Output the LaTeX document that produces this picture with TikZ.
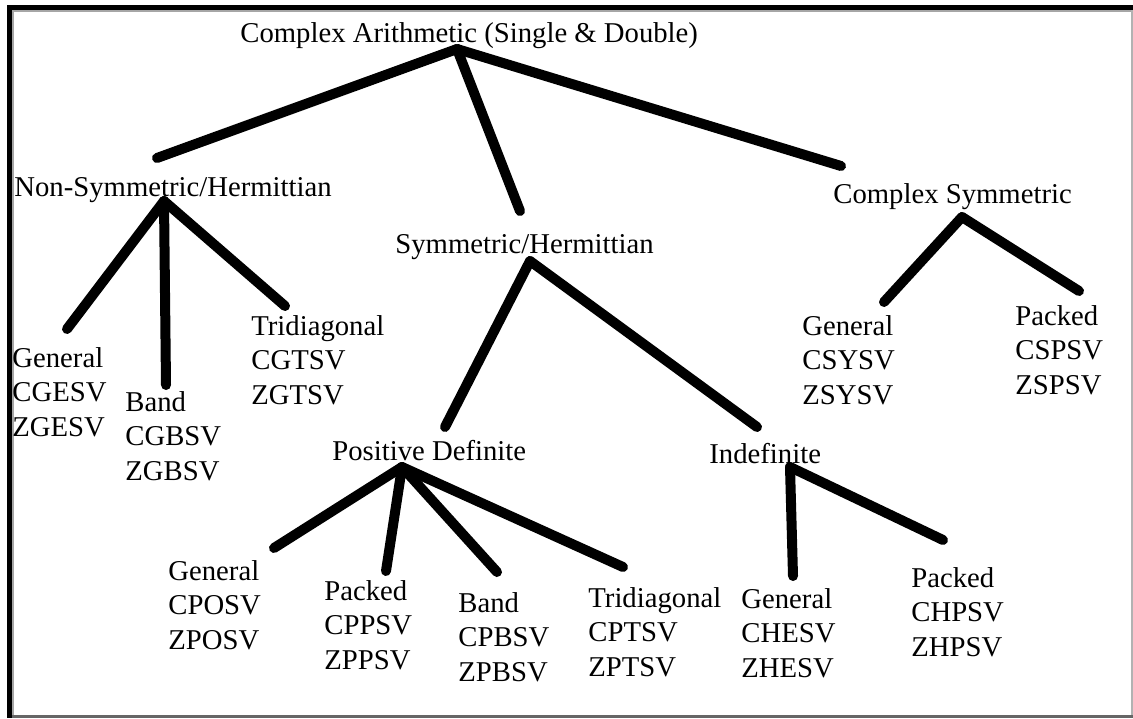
\documentclass[tikz,border=0pt]{standalone}
\usepackage{fontspec}
\setmainfont{Liberation Serif}
\tikzset{
    lbl/.style={inner sep=0pt, anchor=base west, align=left,
        font=\fontsize{14.35}{17.25}\selectfont},
    branch/.style={line width=5pt, line cap=round, line join=round},
}
\begin{document}
\begin{tikzpicture}[x=0.5pt,y=-0.5pt]
    \useasboundingbox (0,0) rectangle (1133,718);
    % frame
    \fill[black] (7,5) rectangle (1133,10);
    \fill[black] (7,5) rectangle (12,718);
    \fill[gray!70] (12,10) rectangle (1131,11.5);
    \fill[gray!70] (12,10) rectangle (13.5,716);
    \fill[gray!60] (1131,10) rectangle (1133,718);
    \fill[black!60] (12,715) rectangle (1133,718);

    % labels (three-line blocks sit on the baseline of their last line)
    \node[lbl] (root) at (240,42) {Complex Arithmetic (Single \& Double)};
    \node[lbl] (nonsym) at (14,196) {Non-Symmetric/Hermittian};
    \node[lbl] (symherm) at (395,253) {Symmetric/Hermittian};
    \node[lbl] (cplxsym) at (833,203) {Complex Symmetric};
    \node[lbl] (nsgen) at (12,436) {General\\CGESV\\ZGESV};
    \node[lbl] (nsband) at (125,480) {Band\\CGBSV\\ZGBSV};
    \node[lbl] (nstri) at (251,404) {Tridiagonal\\CGTSV\\ZGTSV};
    \node[lbl] (posdef) at (332,460) {Positive Definite};
    \node[lbl] (indef) at (709,463) {Indefinite};
    \node[lbl] (csgen) at (802,404) {General\\CSYSV\\ZSYSV};
    \node[lbl] (cspack) at (1015,394) {Packed\\CSPSV\\ZSPSV};
    \node[lbl] (pdgen) at (168,649) {General\\CPOSV\\ZPOSV};
    \node[lbl] (pdpack) at (324,669) {Packed\\CPPSV\\ZPPSV};
    \node[lbl] (pdband) at (458,681) {Band\\CPBSV\\ZPBSV};
    \node[lbl] (pdtri) at (588,676) {Tridiagonal\\CPTSV\\ZPTSV};
    \node[lbl] (indgen) at (741,677) {General\\CHESV\\ZHESV};
    \node[lbl] (indpack) at (911,656) {Packed\\CHPSV\\ZHPSV};

    % branch ends
    \coordinate (root-b) at (457,49);
    \coordinate (nonsym-t) at (157,158);
    \coordinate (nonsym-b) at (164,201);
    \coordinate (symherm-t) at (520,211);
    \coordinate (symherm-b) at (530,261);
    \coordinate (cplxsym-t) at (841,166);
    \coordinate (cplxsym-b) at (962,217);
    \coordinate (nsgen-t) at (67,329);
    \coordinate (nsband-t) at (166,385);
    \coordinate (nstri-t) at (285,306);
    \coordinate (posdef-t) at (445,427);
    \coordinate (posdef-b) at (402,467);
    \coordinate (indef-t) at (757,427);
    \coordinate (indef-b) at (790,467);
    \coordinate (csgen-t) at (884,302);
    \coordinate (cspack-t) at (1079,291);
    \coordinate (pdgen-t) at (274,548);
    \coordinate (pdpack-t) at (386,571);
    \coordinate (pdband-t) at (497,572);
    \coordinate (pdtri-t) at (623,567);
    \coordinate (indgen-t) at (793,576);
    \coordinate (indpack-t) at (943,540);

    \foreach \a/\b in {root-b/nonsym-t, root-b/symherm-t, root-b/cplxsym-t,
        nonsym-b/nsgen-t, nonsym-b/nsband-t, nonsym-b/nstri-t,
        symherm-b/posdef-t, symherm-b/indef-t,
        cplxsym-b/csgen-t, cplxsym-b/cspack-t,
        posdef-b/pdgen-t, posdef-b/pdpack-t, posdef-b/pdband-t, posdef-b/pdtri-t,
        indef-b/indgen-t, indef-b/indpack-t} {
        \draw[branch] (\a) -- (\b);
    }
\end{tikzpicture}
\end{document}
